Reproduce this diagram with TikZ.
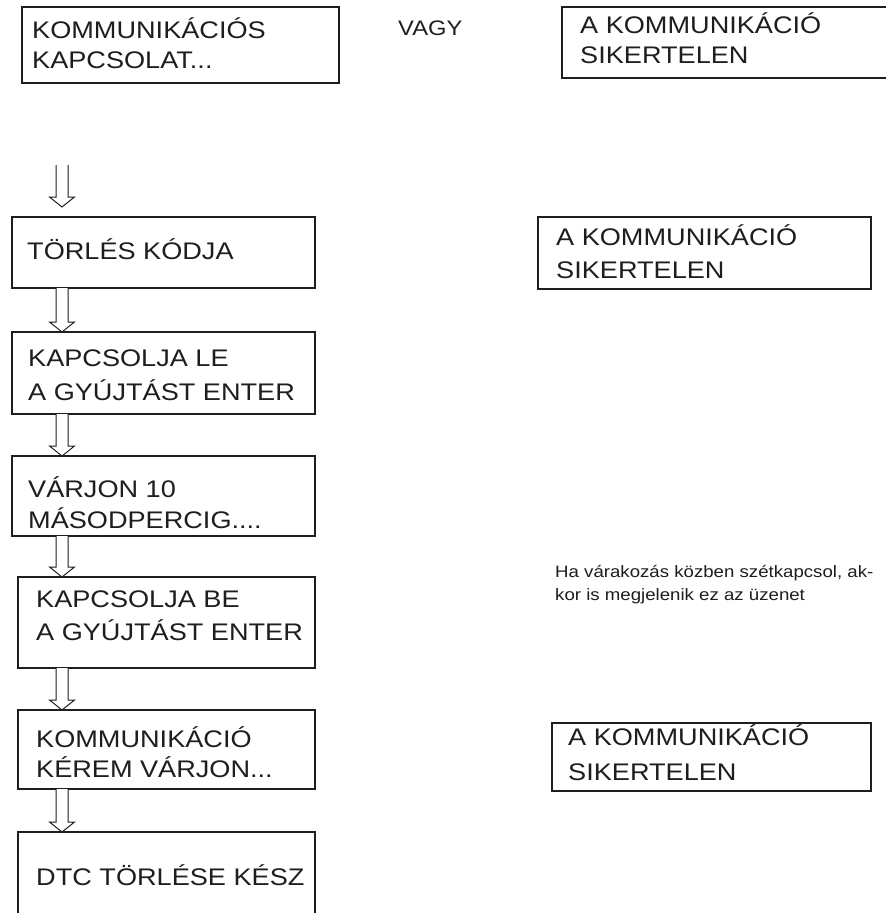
\documentclass[tikz,border=0pt]{standalone}
\usepackage{fontspec}
\setmainfont{Liberation Sans}[FakeStretch=1.13]
\usetikzlibrary{calc}
\definecolor{ink}{HTML}{1E1E1E}
\tikzset{
  box/.style={draw=ink, line width=1.4pt, rectangle, inner sep=0pt, outer sep=0pt, anchor=north west},
  big/.style={text=ink, inner sep=0pt, anchor=base west, font=\fontsize{24}{28}\selectfont},
  vagy/.style={text=ink, inner sep=0pt, anchor=base west, font=\fontsize{21}{24}\selectfont},
  note/.style={text=ink, inner sep=0pt, anchor=base west, font=\fontsize{16.5}{20}\selectfont},
  blk/.style={draw=ink, line width=1pt, fill=white, line join=miter}
}
\newcommand\blkarrow[2]{%
  \draw[blk] let \p1=(#1), \p2=(#2) in
    (\x1-6pt,\y1) -- (\x1-6pt,\y2+10pt) -- (\x1-12.5pt,\y2+10pt) -- (\x1,\y2)
    -- (\x1+12.5pt,\y2+10pt) -- (\x1+6pt,\y2+10pt) -- (\x1+6pt,\y1);}
\begin{document}
\begin{tikzpicture}[x=1pt,y=-1pt]
\useasboundingbox (0,0) rectangle (886,913);
\clip (0,0) rectangle (886,913);
\fill[white] (0,0) rectangle (886,913);

% left column boxes
\node[box, minimum width=317pt, minimum height=76pt] (b1) at (22,7) {};
\node[box, minimum width=303pt, minimum height=71pt] (b2) at (12,217) {};
\node[box, minimum width=303pt, minimum height=82pt] (b3) at (12,332) {};
\node[box, minimum width=303pt, minimum height=80pt] (b4) at (12,456) {};
\node[box, minimum width=297pt, minimum height=91pt] (b5) at (18,577) {};
\node[box, minimum width=297pt, minimum height=79pt] (b6) at (18,710) {};
\node[box, minimum width=297pt, minimum height=100pt] (b7) at (18,832) {};

% right column boxes
\node[box, minimum width=330pt, minimum height=71pt] (r1) at (562,7) {};
\node[box, minimum width=333pt, minimum height=72pt] (r2) at (538,217) {};
\node[box, minimum width=319pt, minimum height=68pt] (r3) at (552,723) {};

% texts
\node[big] (t1a) at (32,38) {KOMMUNIKÁCIÓS};
\node[big] (t1b) at (32,68) {KAPCSOLAT...};
\node[vagy] (tv) at (398,35) {VAGY};
\node[big] (tr1a) at (580,33) {A KOMMUNIKÁCIÓ};
\node[big] (tr1b) at (580,63) {SIKERTELEN};
\node[big] (t2) at (27,259) {TÖRLÉS KÓDJA};
\node[big] (tr2a) at (556,245) {A KOMMUNIKÁCIÓ};
\node[big] (tr2b) at (556,278) {SIKERTELEN};
\node[big] (t3a) at (28,366) {KAPCSOLJA LE};
\node[big] (t3b) at (28,400) {A GYÚJTÁST ENTER};
\node[big] (t4a) at (28,497) {VÁRJON 10};
\node[big] (t4b) at (28,528) {MÁSODPERCIG....};
\node[note] (n1) at (555,577) {Ha várakozás közben szétkapcsol, ak-};
\node[note] (n2) at (555,600) {kor is megjelenik ez az üzenet};
\node[big] (t5a) at (36,607) {KAPCSOLJA BE};
\node[big] (t5b) at (36,640) {A GYÚJTÁST ENTER};
\node[big] (t6a) at (36,747) {KOMMUNIKÁCIÓ};
\node[big] (t6b) at (36,777) {KÉREM VÁRJON...};
\node[big] (tr3a) at (568,745) {A KOMMUNIKÁCIÓ};
\node[big] (tr3b) at (568,780) {SIKERTELEN};
\node[big] (t7) at (36,885) {DTC TÖRLÉSE KÉSZ};

% arrows
\coordinate (ax) at (62,0);
\coordinate (a1s) at (62,165);
\coordinate (a1e) at (62,207);
\blkarrow{a1s}{a1e}
\blkarrow{b2.south -| ax}{b3.north -| ax}
\blkarrow{b3.south -| ax}{b4.north -| ax}
\blkarrow{b4.south -| ax}{b5.north -| ax}
\blkarrow{b5.south -| ax}{b6.north -| ax}
\blkarrow{b6.south -| ax}{b7.north -| ax}
\end{tikzpicture}
\end{document}
